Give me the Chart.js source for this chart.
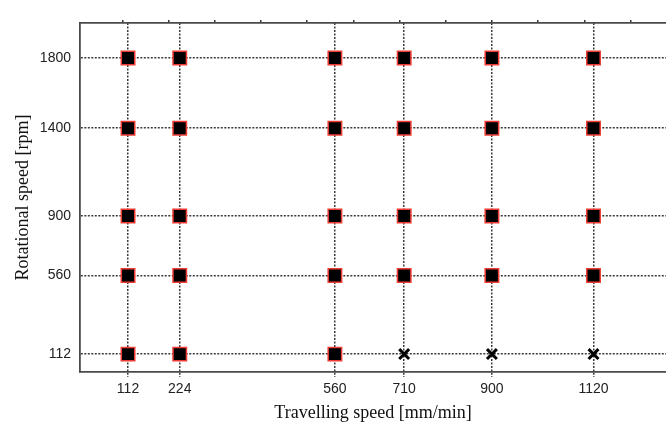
<!DOCTYPE html>
<html>
<head>
<meta charset="utf-8">
<script src="https://cdn.jsdelivr.net/npm/chart.js@4"></script>
<style>
  html, body { margin: 0; padding: 0; background: #fff; overflow: hidden; }
</style>
</head>
<body>
<canvas id="chart" width="666" height="426"></canvas>
<script>

// Data
const travelSpeeds = [112, 224, 560, 710, 900, 1120];   // mm/min
const rotSpeeds = [112, 560, 900, 1400, 1800];          // rpm
const failedRuns = [[710, 112], [900, 112], [1120, 112]];
const topMinorTicks = [100, 200, 300, 400, 500, 600, 700, 800, 900, 1000, 1100, 1200];

// build points
const isFailed = (t, r) => failedRuns.some(f => f[0] === t && f[1] === r);
const okPoints = [];
travelSpeeds.forEach(t => {
    rotSpeeds.forEach(r => {
        if (!isFailed(t, r)) okPoints.push({ x: t, y: r });
    });
});
const failPoints = failedRuns.map(f => ({ x: f[0], y: f[1] }));

const gridStyle = {
    color: "#3a3a3a",
    lineWidth: 1.5
};
const frame = { display: true, color: "#4a4a4a", width: 1.8, dash: [2, 1.5] };

new Chart(document.getElementById("chart"), {
    type: "scatter",
    data: {
        datasets: [
            {
                label: "Welded",
                data: okPoints,
                pointStyle: "rect",
                pointRadius: 9.5,
                backgroundColor: "#000",
                borderColor: "#ee3b34",
                borderWidth: 1.5
            },
            {
                label: "Not welded",
                data: failPoints,
                pointStyle: "crossRot",
                pointRadius: 7,
                borderColor: "#000",
                borderWidth: 3
            }
        ]
    },
    options: {
        responsive: false,
        animation: false,
        layout: { padding: 0, autoPadding: false },
        plugins: {
            legend: { display: false },
            tooltip: { enabled: false }
        },
        scales: {
            x: {
                type: "linear",
                position: "bottom",
                min: 8,
                max: 1277,
                afterBuildTicks: s => { s.ticks = travelSpeeds.map(v => ({ value: v })); },
                afterFit: s => { s.height = 54; },
                grid: Object.assign({}, gridStyle, { drawTicks: true, tickLength: 5, tickBorderDash: [2, 1.5] }),
                border: frame,
                ticks: {
                    color: "#222",
                    font: { family: "Liberation Sans", size: 14 },
                    padding: 4,
                    maxRotation: 0,
                    callback: v => String(v)
                },
                title: {
                    display: true,
                    text: "Travelling speed [mm/min]",
                    color: "#111",
                    font: { family: "Liberation Serif", size: 18 },
                    padding: { top: 0, bottom: 2 }
                }
            },
            x2: {
                type: "linear",
                position: "top",
                min: 8,
                max: 1277,
                afterBuildTicks: s => { s.ticks = topMinorTicks.map(v => ({ value: v })); },
                afterFit: s => { s.height = 23; },
                grid: { drawOnChartArea: false, drawTicks: true, tickLength: 3, color: "#333", lineWidth: 1.5 },
                border: { display: true, color: "#4a4a4a", width: 1.8 },
                ticks: { display: false }
            },
            y: {
                type: "linear",
                position: "left",
                min: 10,
                max: 2000,
                afterBuildTicks: s => { s.ticks = rotSpeeds.map(v => ({ value: v })); },
                afterFit: s => { s.width = 80; },
                grid: Object.assign({}, gridStyle, { drawTicks: false }),
                border: frame,
                ticks: {
                    color: "#222",
                    font: { family: "Liberation Sans", size: 14 },
                    padding: 9,
                    callback: v => String(v)
                },
                title: {
                    display: true,
                    text: "Rotational speed [rpm]",
                    color: "#111",
                    font: { family: "Liberation Serif", size: 18 },
                    padding: { top: 12, bottom: 0 }
                }
            }
        }
    }
});
</script>
</body>
</html>
